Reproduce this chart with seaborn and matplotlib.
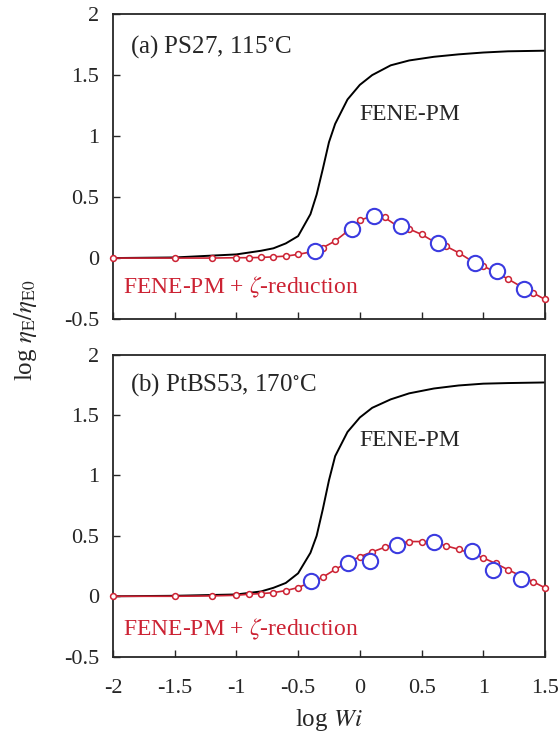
import matplotlib
matplotlib.use("Agg")
import matplotlib.pyplot as plt
import seaborn as sns
import pandas as pd

# model x grid (log Wi) shared by the zeta-reduction curves
x_model = [-2.0, -1.5, -1.2, -1.0, -0.9, -0.8, -0.7, -0.6, -0.5, -0.4, -0.3, -0.2,
           -0.1, 0.0, 0.1, 0.2, 0.3, 0.4, 0.5, 0.6, 0.7, 0.8, 0.9, 1.0, 1.1, 1.2,
           1.3, 1.4, 1.5]

# FENE-PM curves
x_fene = [-2.0, -1.5, -1.0, -0.8, -0.7, -0.6, -0.5, -0.4, -0.35, -0.3, -0.25, -0.2,
          -0.1, 0.0, 0.1, 0.25, 0.4, 0.6, 0.8, 1.0, 1.2, 1.5]
fene_a = [0.0, 0.005, 0.03, 0.06, 0.08, 0.12, 0.18, 0.36, 0.52, 0.73, 0.95, 1.10,
          1.30, 1.42, 1.50, 1.58, 1.62, 1.65, 1.67, 1.685, 1.695, 1.70]
fene_b = [0.0, 0.004, 0.015, 0.04, 0.07, 0.11, 0.19, 0.36, 0.50, 0.72, 0.96, 1.16,
          1.36, 1.48, 1.56, 1.63, 1.68, 1.72, 1.745, 1.76, 1.765, 1.77]

# FENE-PM + zeta-reduction
zeta_a = [0.0, 0.0, 0.0, 0.003, 0.003, 0.005, 0.01, 0.016, 0.03, 0.05, 0.085, 0.14,
          0.22, 0.31, 0.345, 0.333, 0.265, 0.238, 0.194, 0.135, 0.096, 0.044, -0.02,
          -0.066, -0.115, -0.172, -0.23, -0.284, -0.339]
zeta_b = [0.0, 0.0, 0.003, 0.008, 0.017, 0.022, 0.03, 0.047, 0.072, 0.115, 0.158,
          0.222, 0.28, 0.328, 0.367, 0.405, 0.435, 0.453, 0.453, 0.445, 0.417, 0.389,
          0.355, 0.317, 0.272, 0.22, 0.17, 0.122, 0.07]

# experimental data
exp_a_x = [-0.365, -0.062, 0.114, 0.332, 0.635, 0.932, 1.108, 1.33]
exp_a_y = [0.057, 0.235, 0.344, 0.265, 0.126, -0.044, -0.107, -0.254]
exp_b_x = [-0.392, -0.095, 0.081, 0.305, 0.603, 0.905, 1.08, 1.303]
exp_b_y = [0.125, 0.272, 0.294, 0.428, 0.45, 0.375, 0.214, 0.144]

panel_titles = ["(a) PS27, 115$^{\\circ}$C", "(b) PtBS53, 170$^{\\circ}$C"]

sns.set_style("ticks")
plt.rcParams['font.family'] = ['Liberation Serif', 'DejaVu Serif']
plt.rcParams['mathtext.fontset'] = 'stix'
plt.rcParams['xtick.direction'] = 'in'
plt.rcParams['ytick.direction'] = 'in'

red = '#cc2233'
blue = '#3b3be0'

fig = plt.figure(figsize=(5.59, 7.42), dpi=100)
ax1 = fig.add_axes([0.202, 0.570, 0.773, 0.411])
ax2 = fig.add_axes([0.202, 0.115, 0.773, 0.407])

panels = [
    (ax1, fene_a, zeta_a, exp_a_x, exp_a_y, panel_titles[0], (1.73, 1.18, -0.24)),
    (ax2, fene_b, zeta_b, exp_b_x, exp_b_y, panel_titles[1], (1.75, 1.29, -0.275)),
]

for ax, fene, zeta, ex, ey, title, ty in panels:
    df_f = pd.DataFrame({'x': x_fene, 'y': fene})
    df_z = pd.DataFrame({'x': x_model, 'y': zeta})
    df_e = pd.DataFrame({'x': ex, 'y': ey})
    sns.lineplot(data=df_f, x='x', y='y', ax=ax, color='black', linewidth=1.4,
                 sort=False, estimator=None)
    sns.lineplot(data=df_z, x='x', y='y', ax=ax, color=red, linewidth=1.2,
                 sort=False, estimator=None, marker='o', markersize=4.2,
                 markerfacecolor='white', markeredgecolor=red, markeredgewidth=1.1,
                 clip_on=False, zorder=3)
    ax.plot(df_e['x'], df_e['y'], linestyle='none', marker='o', markersize=11,
            markerfacecolor='white', markeredgecolor=blue, markeredgewidth=1.5,
            zorder=4)
    ax.set_xlim(-2, 1.5)
    ax.set_ylim(-0.5, 2)
    ax.set_xticks([-2, -1.5, -1, -0.5, 0, 0.5, 1, 1.5])
    ax.set_yticks([-0.5, 0, 0.5, 1, 1.5, 2])
    ax.set_yticklabels(['-0.5', '0', '0.5', '1', '1.5', '2'])
    ax.set_xlabel('')
    ax.set_ylabel('')
    ax.tick_params(labelsize=16, length=5, width=1)
    ax.tick_params(axis='y', pad=10)
    ax.tick_params(axis='x', pad=16)
    for sp in ax.spines.values():
        sp.set_visible(True)
        sp.set_linewidth(1.3)
    ax.text(-1.86, ty[0], title, fontsize=18, va='center', ha='left')
    ax.text(0.0, ty[1], 'FENE-PM', fontsize=17, va='center', ha='left')
    ax.text(-1.92, ty[2], 'FENE-PM + $\\zeta$-reduction', fontsize=17, va='center',
            ha='left', color=red)

ax1.tick_params(labelbottom=False)
ax2.set_xticklabels(['-2', '-1.5', '-1', '-0.5', '0', '0.5', '1', '1.5'])

fig.text(0.045, 0.555, 'log $\\eta_{\\mathrm{E}}/\\eta_{\\mathrm{E0}}$', rotation=90,
         fontsize=18, ha='center', va='center')
fig.text(0.588, 0.030, 'log $\\mathit{Wi}$', fontsize=18, ha='center', va='center')

fig.savefig('out.png', dpi=100)
